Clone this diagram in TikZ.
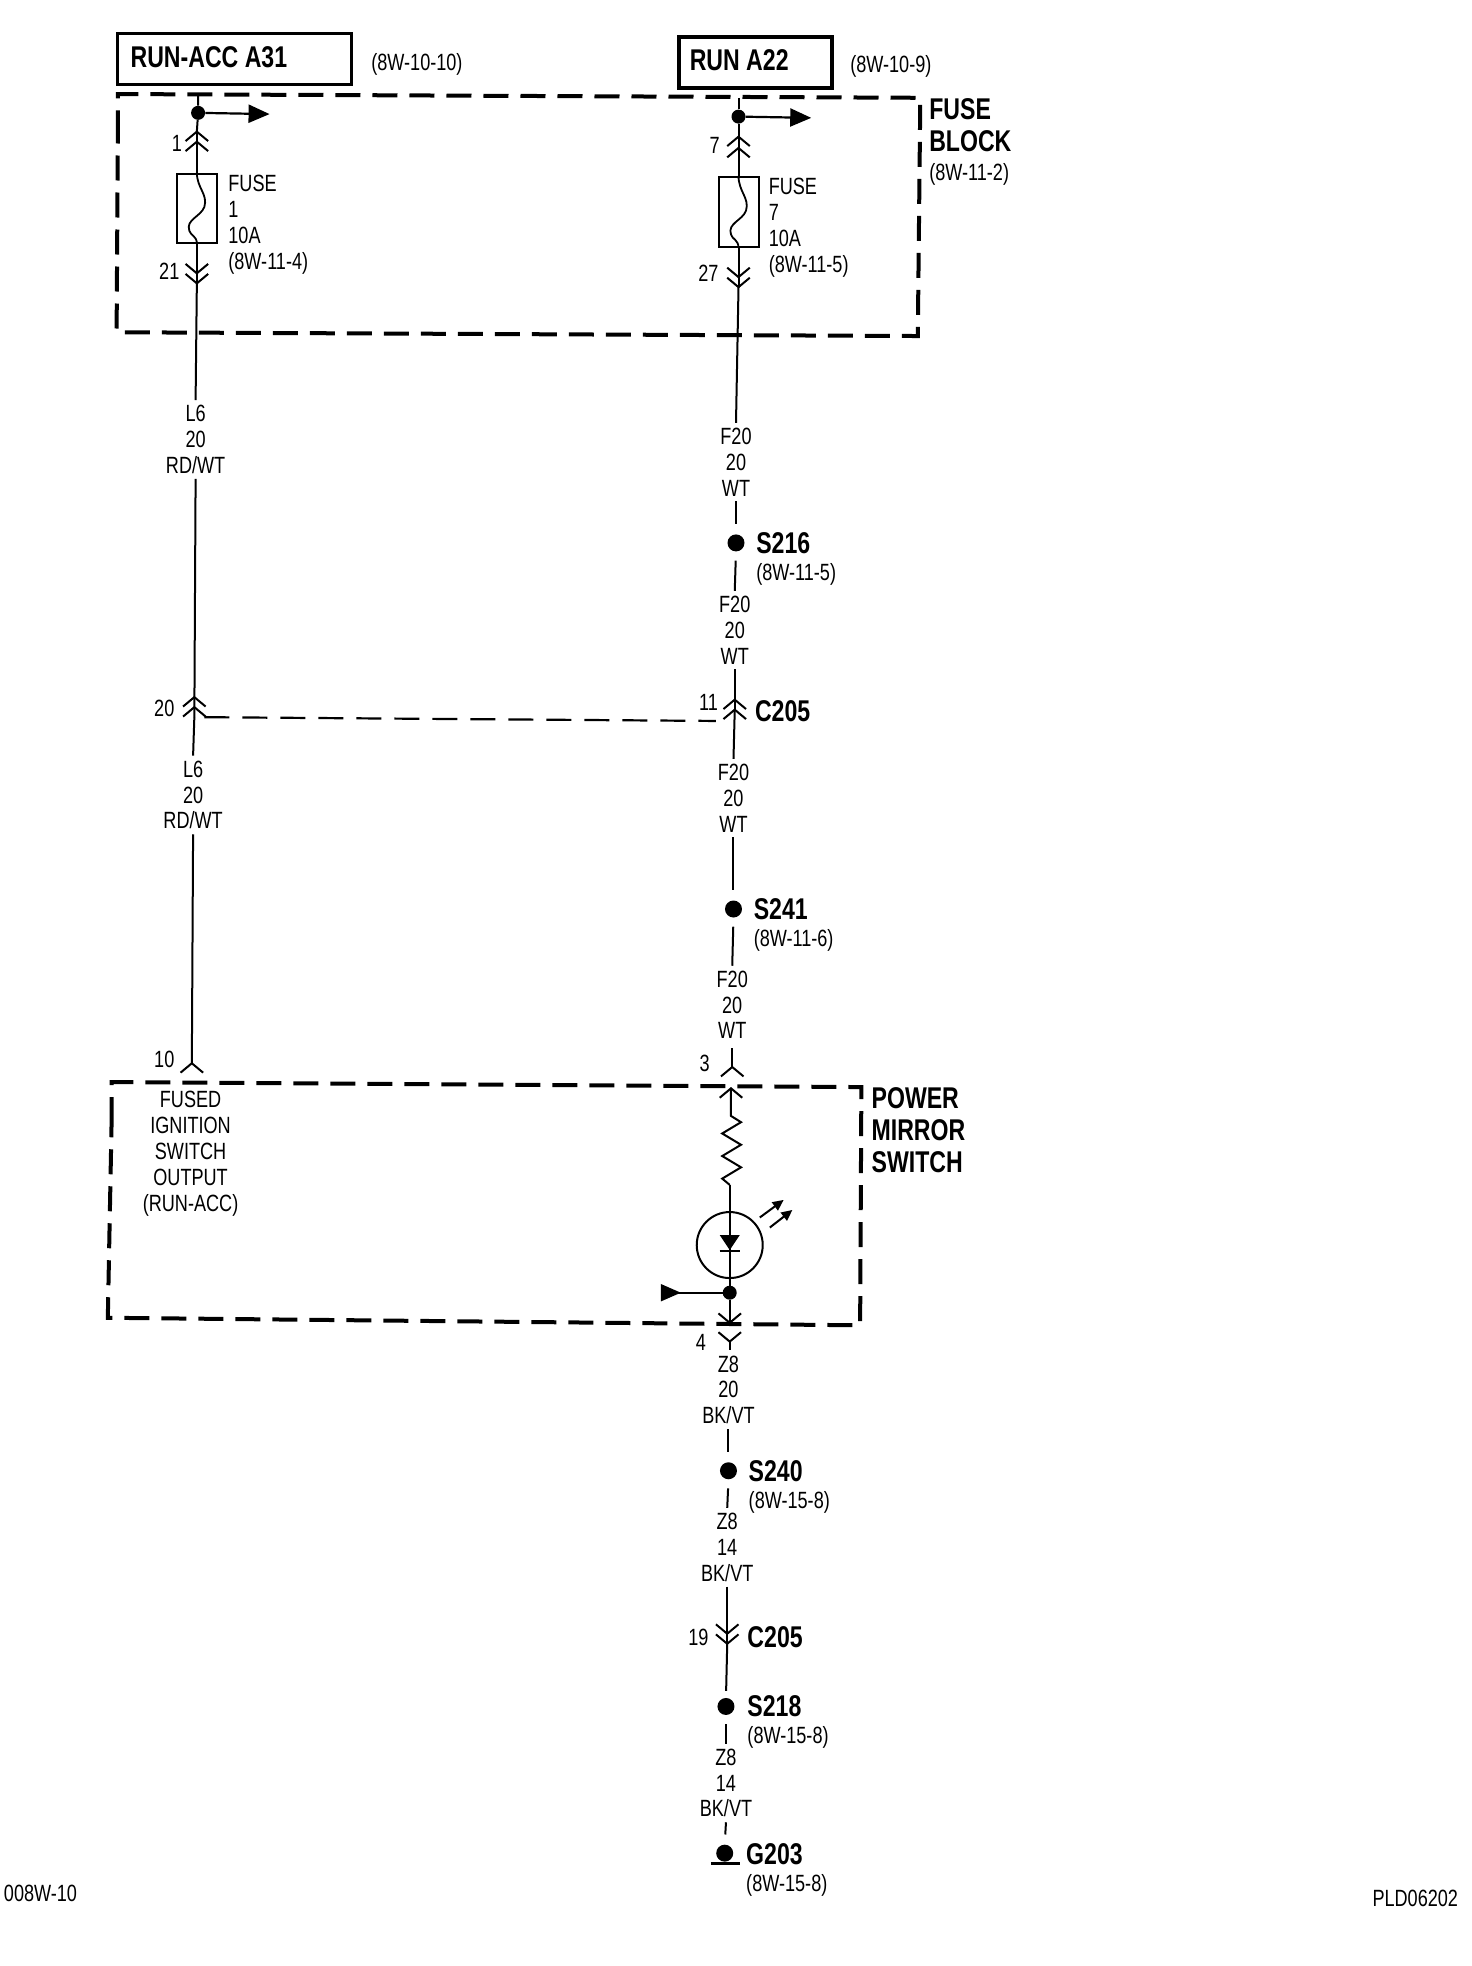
\documentclass[tikz,border=0pt]{standalone}
\usepackage{fontspec}
\setmainfont[FakeStretch=0.77]{Liberation Sans}
\usetikzlibrary{arrows.meta}
\tikzset{
  x=1.2538pt,y=-1.2538pt,
  wire/.style={line width=2pt,line cap=butt},
  txt/.style={font=\fontsize{23.5}{26}\selectfont,inner sep=0pt,align=center},
  wlab/.style={font=\fontsize{23.5}{25.8}\selectfont,inner xsep=0pt,inner ysep=5pt,align=center},
  ltxt/.style={txt,anchor=west,align=left},
  bold/.style={font=\fontsize{30}{32}\selectfont\bfseries,inner sep=0pt,anchor=west,align=left},
  boxed/.style={draw,line width=3.5pt,fill=none},
  dashbox/.style={line width=4pt,dash pattern=on 25pt off 12pt},
  dashwire/.style={line width=2.2pt,dash pattern=on 25pt off 13pt},
  dot/.style={circle,fill=black,inner sep=0pt,minimum size=17pt},
  jdot/.style={circle,fill=black,inner sep=0pt,minimum size=14pt},
  tip/.style={-{Triangle[length=21pt,width=18pt]},line width=2.2pt},
  ledtip/.style={-{Triangle[length=11pt,width=10pt]},line width=2pt},
  pics/cup/.style={code={\draw[line width=2pt] (-9,7.5)--(0,0)--(9,7.5);}},
  pics/cdn/.style={code={\draw[line width=2pt] (-9,-7.5)--(0,0)--(9,-7.5);}},
}
\begin{document}
\begin{tikzpicture}
\useasboundingbox[fill=white] (0,0) rectangle (1174,1568);
% top boxes
\node[boxed,minimum width=234pt,minimum height=51pt,inner sep=0pt] (boxa) at (187,47) {};
\node[bold] (ta) at (104,46) {RUN-ACC A31};
\node[ltxt] (ra) at (296,51) {(8W-10-10)};
\node[boxed,minimum width=153pt,minimum height=51pt,inner sep=0pt] (boxb) at (602.5,50) {};
\node[bold] (tb) at (550,48) {RUN A22};
\node[ltxt] (rb) at (678,53) {(8W-10-9)};
% fuse block
\draw[dashbox] (94,108) -- (94,75) -- (734,78) -- (732,268) -- (93,265) -- cycle;
\node[bold] (fb) at (741,99.5) {FUSE\\BLOCK};
\node[ltxt] (fbr) at (741,139) {(8W-11-2)};
% left column
\coordinate (a0) at (158,75);
\node[jdot] (a1) at (158,90) {};
\coordinate (aa) at (215,91);
\coordinate (a2) at (157,105);
\draw[wire] (a0) -- (a1) -- (a2);
\draw[tip] (a1) -- (aa);
\pic at (157,105) {cup}; \pic at (157,113) {cup};
\node[txt] (n1) at (141,114) {1};
\node[draw,line width=2pt,minimum width=40pt,minimum height=69pt,inner sep=0pt] (f1) at (157,166) {};
\draw[wire] (a2) -- (f1.north);
\draw[line width=1.8pt] (f1.north) .. controls (157,150) and (166,155) .. (163,165) .. controls (160,173) and (148,175) .. (151,184) .. controls (152,188) and (157,188) .. (f1.south);
\node[ltxt] (tf1) at (182,179) {\fontsize{23.5}{26.5}\selectfont FUSE\\1\\10A\\(8W-11-4)};
\node[txt] (n21) at (135,216) {21};
\coordinate (a3) at (157,226);
\draw[wire] (f1.south) -- (a3);
\pic at (157,218) {cdn}; \pic at (157,226) {cdn};
\node[wlab] (l1) at (156,350.5) {L6\\20\\RD/WT};
\draw[wire] (a3) -- (l1.north);
\node[txt] (n20) at (131,565) {20};
\coordinate (a4) at (155,572);
\pic at (155,556) {cup}; \pic at (155,564) {cup};
\draw[wire] (l1.south) -- (a4);
\node[wlab] (l2) at (154,634) {L6\\20\\RD/WT};
\draw[wire] (a4) -- (l2.north);
\node[txt] (n10) at (131,845) {10};
\coordinate (a5) at (153,848);
\draw[wire] (l2.south) -- (a5);
\pic at (153,848) {cup};
\node[txt] (fo) at (152,920.5) {\fontsize{23.5}{25.8}\selectfont FUSED\\IGNITION\\SWITCH\\OUTPUT\\(RUN-ACC)};
% right column
\coordinate (b0) at (589,78);
\node[jdot] (b1) at (589,93) {};
\coordinate (ba) at (647,94);
\coordinate (b2) at (589,109);
\draw[wire] (b0) -- (b1) -- (b2);
\draw[tip] (b1) -- (ba);
\pic at (589,109) {cup}; \pic at (589,118) {cup};
\node[txt] (n7) at (570,116) {7};
\node[draw,line width=2pt,minimum width=40pt,minimum height=70pt,inner sep=0pt] (f2) at (589,169) {};
\draw[wire] (b2) -- (f2.north);
\draw[line width=1.8pt] (f2.north) .. controls (589,153) and (598,158) .. (595,168) .. controls (592,176) and (580,178) .. (583,187) .. controls (584,191) and (589,191) .. (f2.south);
\node[ltxt] (tf2) at (613,181.5) {\fontsize{23.5}{26.5}\selectfont FUSE\\7\\10A\\(8W-11-5)};
\node[txt] (n27) at (565,218) {27};
\coordinate (b3) at (589,229);
\draw[wire] (f2.south) -- (b3);
\pic at (589,221) {cdn}; \pic at (589,229) {cdn};
\node[wlab] (r1) at (587,368.5) {F20\\20\\WT};
\draw[wire] (b3) -- (r1.north);
\node[dot] (s216) at (587,433) {};
\draw[wire,shorten >=10pt] (r1.south) -- (s216.north);
\node[bold] (ts216) at (603,433) {S216};
\node[ltxt] (rs216) at (603,458) {(8W-11-5)};
\node[wlab] (r2) at (586,502.5) {F20\\20\\WT};
\draw[wire,shorten <=9pt] (s216.south) -- (r2.north);
\coordinate (b4) at (586,566);
\draw[wire] (r2.south) -- (b4);
\pic at (586,558) {cup}; \pic at (586,566) {cup};
\node[txt] (n11) at (565,560) {11};
\node[bold] (tc205) at (602,567) {C205};
\coordinate (b5) at (571,575);
\draw[dashwire] (a4) ++(8,0) -- (b5);
\node[wlab] (r3) at (585,636.5) {F20\\20\\WT};
\draw[wire] (b4) -- (r3.north);
\node[dot] (s241) at (585,725) {};
\draw[wire,shorten >=10pt] (r3.south) -- (s241.north);
\node[bold] (ts241) at (601,725) {S241};
\node[ltxt] (rs241) at (601,750) {(8W-11-6)};
\node[wlab] (r4) at (584,801.5) {F20\\20\\WT};
\draw[wire,shorten <=9pt] (s241.south) -- (r4.north);
\coordinate (b6) at (584,851);
\pic at (584,851) {cup};
\draw[wire] (584,836) -- (b6);
\node[txt] (n3) at (562,848) {3};
% power mirror switch
\draw[dashbox] (89,895) -- (89,863) -- (687,867) -- (686,1057) -- (86,1051) -- cycle;
\node[bold] (pm) at (695,901) {POWER\\MIRROR\\SWITCH};
\coordinate (c0) at (583,868);
\pic at (583,868) {cup};
\coordinate (c1) at (583,890);
\coordinate (c2) at (582,945);
\draw[wire] (c0) -- (c1) -- ++(8,5) -- ++(-15,9) -- ++(15,9) -- ++(-15,9) -- ++(15,9) -- ++(-15,9) -- (c2);
\node[draw,circle,line width=2pt,minimum size=66pt,inner sep=0pt] (led) at (582,993) {};
\draw[wire] (c2) -- (led.north);
\node[jdot] (c3) at (582,1031) {};
\draw[wire] (led.north) -- (c3);
\fill (574,985) -- (590,985) -- (582,997) -- cycle;
\draw[line width=2pt] (574,997.5) -- (590,997.5);
\draw[ledtip] (606,971) -- (625,957);
\draw[ledtip] (614,979) -- (632,965);
\coordinate (c4) at (541,1031);
\draw[line width=2.4pt] (c3) -- (c4);
\fill (527,1024) -- (543,1031) -- (527,1038) -- cycle;
\coordinate (c5) at (582,1055);
\draw[wire] (c3) -- (c5);
\pic at (582,1055) {cdn};
\pic at (582,1070) {cdn};
\draw[wire] (582,1070) -- (582,1077);
\node[txt] (n4) at (559,1071) {4};
% below
\node[wlab] (r5) at (581,1108.5) {Z8\\20\\BK/VT};
\node[dot] (s240) at (581,1173) {};
\draw[wire,shorten >=10pt] (r5.south) -- (s240.north);
\node[bold] (ts240) at (597,1173) {S240};
\node[ltxt] (rs240) at (597,1198) {(8W-15-8)};
\node[wlab] (r6) at (580,1234) {Z8\\14\\BK/VT};
\draw[wire,shorten <=9pt] (s240.south) -- (r6.north);
\coordinate (d1) at (580,1311);
\draw[wire] (r6.south) -- (d1);
\pic at (580,1303) {cdn}; \pic at (580,1311) {cdn};
\node[txt] (n19) at (557,1306) {19};
\node[bold] (tc205b) at (596,1306) {C205};
\node[dot] (s218) at (579,1361) {};
\draw[wire,shorten >=7pt] (d1) -- (s218.north);
\node[bold] (ts218) at (596,1361) {S218};
\node[ltxt] (rs218) at (596,1386) {(8W-15-8)};
\node[wlab] (r7) at (579,1422) {Z8\\14\\BK/VT};
\draw[wire,shorten <=9pt] (s218.south) -- (r7.north);
\node[dot] (g203) at (578,1478) {};
\draw[wire,shorten >=10pt] (r7.south) -- (g203.north);
\draw[line width=3pt] (567,1486) -- (590,1486);
\node[bold] (tg203) at (595,1479) {G203};
\node[ltxt] (rg203) at (595,1503.5) {(8W-15-8)};
\node[ltxt] (ftl) at (3,1510) {008W-10};
\node[txt,anchor=east] (ftr) at (1163,1514) {PLD06202};
\end{tikzpicture}
\end{document}
